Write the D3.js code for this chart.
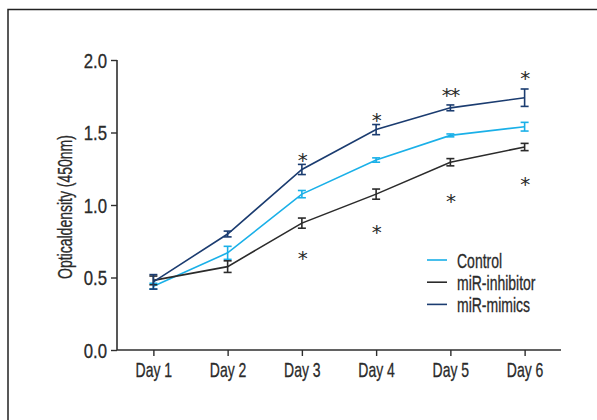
<!DOCTYPE html>
<html>
<head>
<meta charset="utf-8">
<script src="https://cdn.jsdelivr.net/npm/d3@7"></script>
<style>
  html, body { margin: 0; padding: 0; background: #fff; }
  svg { display: block; }
  text { font-family: "Liberation Sans", Arial, sans-serif; fill: #2a2a2a; stroke: #2a2a2a; stroke-width: 0.3px; }
</style>
</head>
<body>
<svg id="chart" width="597" height="420"></svg>
<script>
// Cell proliferation (CCK-8) over six days
const days = ["Day 1", "Day 2", "Day 3", "Day 4", "Day 5", "Day 6"];
const seriesNames = ["Control", "miR-inhibitor", "miR-mimics"];
const seriesColors = ["#1ab0e8", "#2b2b2b", "#1b3c70"];

const controlMean   = [0.44, 0.67, 1.075, 1.31, 1.48, 1.54];
const controlErr    = [0.02, 0.045, 0.025, 0.015, 0.01, 0.03];
const inhibitorMean = [0.48, 0.575, 0.875, 1.075, 1.295, 1.40];
const inhibitorErr  = [0.03, 0.04, 0.035, 0.035, 0.025, 0.025];
const mimicsMean    = [0.47, 0.80, 1.245, 1.52, 1.67, 1.74];
const mimicsErr     = [0.05, 0.02, 0.035, 0.035, 0.02, 0.06];

const yTicks = [0.0, 0.5, 1.0, 1.5, 2.0];

// significance marks: day, text, vertical position (data units)
const sigDays   = ["Day 3", "Day 3", "Day 4", "Day 4", "Day 5", "Day 5", "Day 6", "Day 6"];
const sigLabels = ["*", "*", "*", "*", "**", "*", "*", "*"];
const sigValues = [1.345, 0.67, 1.62, 0.85, 1.79, 1.065, 1.91, 1.18];

const series = [
  { name: seriesNames[0], color: seriesColors[0], mean: controlMean, err: controlErr },
  { name: seriesNames[1], color: seriesColors[1], mean: inhibitorMean, err: inhibitorErr },
  { name: seriesNames[2], color: seriesColors[2], mean: mimicsMean, err: mimicsErr }
];

// condensed text: regular sans squeezed horizontally
const squeeze = 0.7;
const numSqueeze = 0.84;
const fontSize = "20px";

const svg = d3.select("#chart");

// outer frame
svg.append("rect")
  .attr("x", 8).attr("y", 9.5)
  .attr("width", 640).attr("height", 460)
  .attr("fill", "none").attr("stroke", "#222").attr("stroke-width", 1.5);

const x = d3.scalePoint().domain(days).range([117, 561]).padding(0.49);
const y = d3.scaleLinear().domain([0, 2]).range([350, 60]);

const axisColor = "#2e2e2e";

// y axis
const gy = svg.append("g").attr("transform", "translate(117,0)")
  .call(d3.axisLeft(y).tickValues(yTicks).tickFormat(d3.format(".1f")).tickSize(6).tickPadding(4));
// x axis
const gx = svg.append("g").attr("transform", "translate(0,350)")
  .call(d3.axisBottom(x).tickSize(6).tickPadding(5));

[gx, gy].forEach(g => {
  g.select(".domain").attr("stroke", axisColor).attr("stroke-width", 1.6);
  g.selectAll(".tick line").attr("stroke", axisColor).attr("stroke-width", 1.4);
  g.selectAll(".tick text")
    .attr("fill", "#2a2a2a")
    .style("font-size", fontSize)
    .style("font-family", "'Liberation Sans', Arial, sans-serif");
});
gx.select(".domain").attr("d", "M117,0H561");
gy.select(".domain").attr("d", "M0," + y(2) + "V" + y(0));
gx.selectAll(".tick text")
  .attr("dy", "0.8em")
  .attr("transform", `scale(${squeeze},1)`);
gy.selectAll(".tick text")
  .attr("x", -10 / numSqueeze)
  .attr("dy", "0.36em")
  .attr("transform", `scale(${numSqueeze},1)`);

// y-axis title
svg.append("text")
  .attr("transform", `translate(72,207) rotate(-90) scale(${squeeze},1)`)
  .attr("text-anchor", "middle")
  .style("font-size", fontSize)
  .text("Opticaldensity (450nm)");

// lines and error bars
const line = d3.line().x((d, i) => x(days[i])).y(d => y(d));
const capHalf = 4;

series.forEach(s => {
  const g = svg.append("g");
  g.append("path")
    .attr("d", line(s.mean))
    .attr("fill", "none")
    .attr("stroke", s.color)
    .attr("stroke-width", 1.6);
  const eb = g.selectAll("g.eb").data(s.mean.map((m, i) => ({ day: days[i], m, e: s.err[i] })))
    .join("g").attr("class", "eb")
    .attr("stroke", s.color).attr("stroke-width", 1.6).attr("fill", "none");
  eb.append("line")
    .attr("x1", d => x(d.day)).attr("x2", d => x(d.day))
    .attr("y1", d => y(d.m - d.e)).attr("y2", d => y(d.m + d.e));
  eb.append("line")
    .attr("x1", d => x(d.day) - capHalf).attr("x2", d => x(d.day) + capHalf)
    .attr("y1", d => y(d.m + d.e)).attr("y2", d => y(d.m + d.e));
  eb.append("line")
    .attr("x1", d => x(d.day) - capHalf).attr("x2", d => x(d.day) + capHalf)
    .attr("y1", d => y(d.m - d.e)).attr("y2", d => y(d.m - d.e));
});

// significance asterisks (glyph centred on the given value)
svg.selectAll("text.sig")
  .data(sigDays.map((d, i) => ({ day: d, label: sigLabels[i], v: sigValues[i] })))
  .join("text")
  .attr("class", "sig")
  .attr("x", d => x(d.day))
  .attr("y", d => y(d.v) + 12)
  .attr("text-anchor", "middle")
  .attr("fill", "#333")
  .style("stroke", "none")
  .style("font-family", "'DejaVu Sans', sans-serif")
  .style("font-size", "20px")
  .style("letter-spacing", "-1.5px")
  .text(d => d.label);

// legend
const legend = svg.append("g").attr("transform", "translate(427,260)");
series.forEach((s, i) => {
  const row = legend.append("g").attr("transform", `translate(0,${i * 22.2})`);
  row.append("line")
    .attr("x1", 0).attr("x2", 20).attr("y1", 0).attr("y2", 0)
    .attr("stroke", s.color).attr("stroke-width", 1.6);
  row.append("text")
    .attr("transform", `translate(30,7.5) scale(${squeeze},1)`)
    .style("font-size", fontSize)
    .text(s.name);
});
</script>
</body>
</html>
